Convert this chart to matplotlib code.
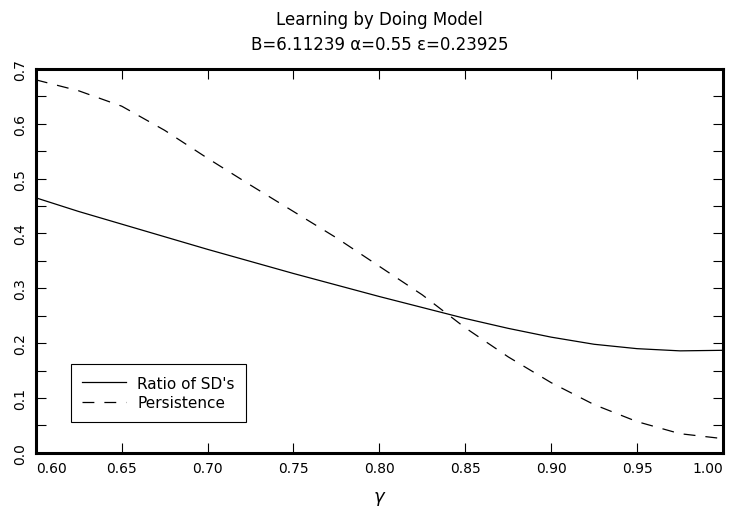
import numpy as np
import matplotlib
matplotlib.use("Agg")
import matplotlib.pyplot as plt
from matplotlib.ticker import MultipleLocator

# gamma grid and the two model outputs
gamma = [0.60, 0.625, 0.65, 0.675, 0.70, 0.725, 0.75, 0.775, 0.80, 0.825,
         0.85, 0.875, 0.90, 0.925, 0.95, 0.975, 1.00]
ratio_sd = [0.465, 0.440, 0.417, 0.394, 0.371, 0.349, 0.327, 0.306, 0.285, 0.265,
            0.245, 0.227, 0.211, 0.198, 0.190, 0.186, 0.187]
persistence = [0.680, 0.660, 0.632, 0.588, 0.537, 0.488, 0.440, 0.392, 0.340, 0.288,
               0.228, 0.175, 0.128, 0.088, 0.057, 0.035, 0.026]

xticks = [0.60, 0.65, 0.70, 0.75, 0.80, 0.85, 0.90, 0.95, 1.00]
yticks = [0.0, 0.1, 0.2, 0.3, 0.4, 0.5, 0.6, 0.7]

title = "Learning by Doing Model\nB=6.11239 \u03b1=0.55 \u03b5=0.23925"

plt.rcParams['font.family'] = ['DejaVu Sans']
fig = plt.figure(figsize=(7.31, 5.10), dpi=100)
ax = fig.add_axes([0.049, 0.110, 0.940, 0.753])

ax.plot(gamma, ratio_sd, color='black', lw=0.9, label="Ratio of SD's")
ax.plot(gamma, persistence, color='black', lw=0.9, dashes=(9.5, 8), label="Persistence")

ax.set_xlim(0.60, 1.00)
ax.set_ylim(0.0, 0.7)
ax.set_xticks(xticks)
ax.set_xticklabels(['%.2f' % v for v in xticks])
ax.set_yticks(yticks)
ax.set_yticklabels(['%.1f' % v for v in yticks], rotation=90, va='center')
ax.yaxis.set_minor_locator(MultipleLocator(0.05))
ax.tick_params(which='both', direction='in', top=True, right=True, width=0.8)
ax.tick_params(which='major', length=7, labelsize=10, pad=6)
ax.tick_params(which='minor', length=7)

# keep the end labels inside the frame
ticks = ax.xaxis.get_major_ticks()
ticks[0].label1.set_horizontalalignment('left')
ticks[-1].label1.set_horizontalalignment('right')

for s in ax.spines.values():
    s.set_linewidth(2.2)

ax.set_xlabel(r'$\gamma$', fontsize=13, labelpad=10)
ax.set_title(title, fontsize=12, linespacing=1.5, pad=14)

leg = ax.legend(loc='lower left', bbox_to_anchor=(0.0505, 0.081), fontsize=11,
                frameon=True, fancybox=False, edgecolor='black', framealpha=1,
                handlelength=2.9, handletextpad=0.72, borderpad=0.75,
                labelspacing=0.3, borderaxespad=0)
leg.get_frame().set_linewidth(0.8)

fig.savefig('out.png', dpi=100)
